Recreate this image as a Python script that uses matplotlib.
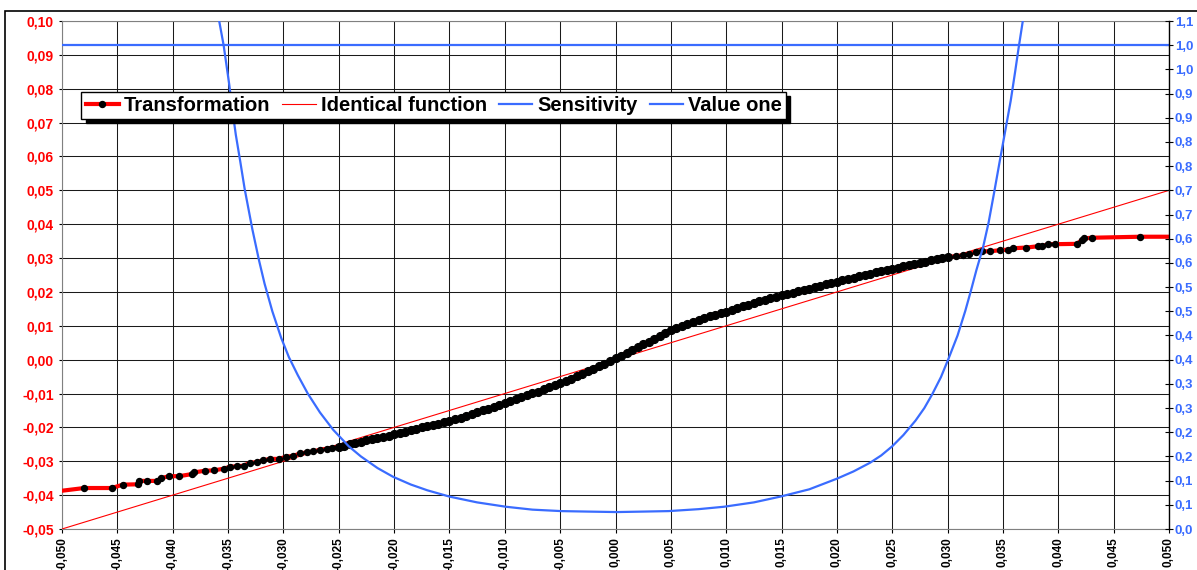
import numpy as np
import matplotlib
matplotlib.use("Agg")
import matplotlib.pyplot as plt
from matplotlib.patches import Rectangle
from matplotlib.ticker import FuncFormatter

plt.rcParams['font.family'] = ['Liberation Sans', 'DejaVu Sans']
plt.rcParams['font.weight'] = 'bold'

RED = '#FF0000'
BLUE = '#3A6CFF'

# ---- data -------------------------------------------------------------
# Transformation: sparse observations in the tails, dense in the centre
trans_x_left = [-0.0500, -0.0480, -0.0455, -0.0445, -0.0431, -0.0430, -0.0423,
                -0.0414, -0.0411, -0.0403, -0.0394, -0.0383, -0.0381, -0.0371,
                -0.0363, -0.0354, -0.0348, -0.0342, -0.0336, -0.0330, -0.0324,
                -0.0318, -0.0312, -0.0304, -0.0298, -0.0291, -0.0285, -0.0279,
                -0.0273, -0.0267, -0.0261, -0.0256]
trans_y_left = [-0.0387, -0.0379, -0.0379, -0.0369, -0.0368, -0.0358, -0.0358,
                -0.0358, -0.0350, -0.0344, -0.0344, -0.0338, -0.0333, -0.0328,
                -0.0327, -0.0322, -0.0316, -0.0315, -0.0313, -0.0304, -0.0303,
                -0.0297, -0.0293, -0.0293, -0.0287, -0.0284, -0.0277, -0.0274,
                -0.0271, -0.0266, -0.0263, -0.0260]

trans_x_mid = [-0.0250, -0.0245, -0.0240, -0.0235, -0.0230, -0.0225, -0.0220,
               -0.0215, -0.0210, -0.0205, -0.0200, -0.0195, -0.0190, -0.0185,
               -0.0180, -0.0175, -0.0170, -0.0165, -0.0160, -0.0155, -0.0150,
               -0.0145, -0.0140, -0.0135, -0.0130, -0.0125, -0.0120, -0.0115,
               -0.0110, -0.0105, -0.0100, -0.0095, -0.0090, -0.0085, -0.0080,
               -0.0075, -0.0070, -0.0065, -0.0060, -0.0055, -0.0050, -0.0045,
               -0.0040, -0.0035, -0.0030, -0.0025, -0.0020, -0.0015, -0.0010,
               -0.0005, 0.0000, 0.0005, 0.0010, 0.0015, 0.0020, 0.0025, 0.0030,
               0.0035, 0.0040, 0.0045, 0.0050, 0.0055, 0.0060, 0.0065, 0.0070,
               0.0075, 0.0080, 0.0085, 0.0090, 0.0095, 0.0100, 0.0105, 0.0110,
               0.0115, 0.0120, 0.0125, 0.0130, 0.0135, 0.0140, 0.0145, 0.0150,
               0.0155, 0.0160, 0.0165, 0.0170, 0.0175, 0.0180, 0.0185, 0.0190,
               0.0195, 0.0200, 0.0205, 0.0210, 0.0215, 0.0220, 0.0225, 0.0230,
               0.0235, 0.0240, 0.0245, 0.0250, 0.0255, 0.0260, 0.0265, 0.0270,
               0.0275, 0.0280, 0.0285, 0.0290, 0.0295, 0.0300]
trans_y_mid = [-0.0257, -0.0254, -0.0250, -0.0246, -0.0242, -0.0238, -0.0235,
               -0.0231, -0.0228, -0.0224, -0.0220, -0.0217, -0.0213, -0.0208,
               -0.0204, -0.0200, -0.0197, -0.0193, -0.0189, -0.0185, -0.0181,
               -0.0176, -0.0171, -0.0166, -0.0161, -0.0155, -0.0150, -0.0145,
               -0.0140, -0.0135, -0.0129, -0.0123, -0.0117, -0.0111, -0.0105,
               -0.0099, -0.0094, -0.0088, -0.0082, -0.0076, -0.0070, -0.0063,
               -0.0056, -0.0049, -0.0041, -0.0034, -0.0027, -0.0019, -0.0012,
               -0.0004, 0.0004, 0.0012, 0.0021, 0.0029, 0.0037, 0.0045, 0.0053,
               0.0061, 0.0069, 0.0078, 0.0087, 0.0094, 0.0100, 0.0106, 0.0112,
               0.0118, 0.0123, 0.0128, 0.0133, 0.0138, 0.0142, 0.0147, 0.0152,
               0.0157, 0.0162, 0.0167, 0.0172, 0.0176, 0.0181, 0.0186, 0.0190,
               0.0194, 0.0198, 0.0202, 0.0206, 0.0210, 0.0214, 0.0218, 0.0222,
               0.0226, 0.0230, 0.0234, 0.0238, 0.0242, 0.0246, 0.0250, 0.0254,
               0.0258, 0.0261, 0.0265, 0.0269, 0.0272, 0.0276, 0.0279, 0.0283,
               0.0286, 0.0289, 0.0293, 0.0296, 0.0300, 0.0303]

trans_x_right = [0.0308, 0.0314, 0.0319, 0.0326, 0.0331, 0.0338, 0.0347, 0.0355,
                 0.0359, 0.0371, 0.0382, 0.0385, 0.0391, 0.0397, 0.0417, 0.0421,
                 0.0423, 0.0430, 0.0474, 0.0500]
trans_y_right = [0.0306, 0.0308, 0.0313, 0.0317, 0.0320, 0.0320, 0.0323, 0.0325,
                 0.0329, 0.0331, 0.0335, 0.0335, 0.0341, 0.0341, 0.0342, 0.0353,
                 0.0358, 0.0360, 0.0363, 0.0363]

# Identical function y = x
ident_x = [-0.05, 0.05]
ident_y = [-0.05, 0.05]

# Sensitivity (right axis)
sens_x = [-0.0358, -0.0354, -0.0349, -0.0346, -0.0343, -0.0339, -0.0335, -0.0331,
          -0.0328, -0.0322, -0.0317, -0.0310, -0.0302, -0.0295, -0.0287, -0.0278,
          -0.0267, -0.0255, -0.0241, -0.0230, -0.0215, -0.0201, -0.0185, -0.0170,
          -0.0150, -0.0125, -0.0099, -0.0075, -0.0049, -0.0025, 0.0001, 0.0025,
          0.0048, 0.0075, 0.0098, 0.0125, 0.0149, 0.0175, 0.0200, 0.0215, 0.0230,
          0.0240, 0.0250, 0.0260, 0.0271, 0.0279, 0.0286, 0.0294, 0.0301, 0.0309,
          0.0316, 0.0321, 0.0326, 0.0332, 0.0337, 0.0342, 0.0347, 0.0352, 0.0357,
          0.0361, 0.0364, 0.0368]
sens_y = [1.050, 1.000, 0.920, 0.865, 0.815, 0.760, 0.703, 0.655,
          0.619, 0.555, 0.507, 0.450, 0.395, 0.355, 0.318, 0.280,
          0.241, 0.205, 0.171, 0.150, 0.126, 0.108, 0.092, 0.080,
          0.067, 0.055, 0.046, 0.040, 0.037, 0.036, 0.035, 0.036,
          0.037, 0.041, 0.046, 0.055, 0.067, 0.082, 0.104, 0.119, 0.137,
          0.152, 0.171, 0.194, 0.224, 0.250, 0.278, 0.314, 0.353, 0.400,
          0.451, 0.492, 0.535, 0.582, 0.633, 0.695, 0.759, 0.822, 0.885,
          0.945, 0.992, 1.051]

# Value one (right axis)
one_x = [-0.05, 0.05]
one_y = [1.0, 1.0]

# Axis ticks and labels
x_ticks = np.linspace(-0.05, 0.05, 21)
left_ticks = np.linspace(-0.05, 0.10, 16)
right_ticks = np.linspace(0.0, 1.05, 22)
right_labels = ['0,0', '0,1', '0,1', '0,2', '0,2', '0,3', '0,3', '0,4', '0,4',
                '0,5', '0,5', '0,6', '0,6', '0,7', '0,7', '0,8', '0,8', '0,9',
                '0,9', '1,0', '1,0', '1,1']

# ---- figure -----------------------------------------------------------
W, H = 1197, 570
fig = plt.figure(figsize=(W / 100, H / 100), dpi=100)
fig.patches.append(Rectangle((5 / W, -0.2), 1.5, 1.2 - 10.7 / H,
                             transform=fig.transFigure, fill=False,
                             edgecolor='black', linewidth=1.2))

ax = fig.add_axes([62 / W, 1 - 529 / H, 1107 / W, 508 / H])
ax2 = ax.twinx()

trans_x = trans_x_left + trans_x_mid + trans_x_right
trans_y = trans_y_left + trans_y_mid + trans_y_right
n_left, n_mid = len(trans_x_left), len(trans_x_mid)
tail_idx = (list(range(1, n_left)) +
            list(range(n_left + n_mid, len(trans_x) - 1)))

l_ident, = ax.plot(ident_x, ident_y, color=RED, lw=0.8,
                   label='Identical function', zorder=3)
# red line with black observation dots; the dense centre gets slightly
# larger dots so that they merge into a solid band
l_trans, = ax.plot(trans_x, trans_y, color=RED, lw=3.0, marker='o', ms=4.3,
                   mfc='black', mec='black', markevery=tail_idx,
                   label='Transformation', zorder=4)
ax.plot(trans_x_mid, trans_y_mid, ls='none', marker='o', ms=5.6,
        mfc='black', mec='black', zorder=5)

l_sens, = ax2.plot(sens_x, sens_y, color=BLUE, lw=1.6, label='Sensitivity')
l_one, = ax2.plot(one_x, one_y, color=BLUE, lw=1.6, label='Value one')

ax.set_xlim(-0.05, 0.05)
ax.set_ylim(-0.05, 0.10)
ax2.set_ylim(0.0, 1.05)

ax.set_xticks(x_ticks)
ax.xaxis.set_major_formatter(FuncFormatter(
    lambda v, p: f"{round(v, 3) + 0.0:.3f}".replace('.', ',')))
ax.set_yticks(left_ticks)
ax.yaxis.set_major_formatter(FuncFormatter(
    lambda v, p: f"{round(v, 2) + 0.0:.2f}".replace('.', ',')))
ax2.set_yticks(right_ticks)
ax2.set_yticklabels(right_labels)

ax.grid(True, color='#1a1a1a', lw=0.75)
ax.set_axisbelow(True)

for lbl in ax.get_xticklabels():
    lbl.set_rotation(90)
ax.tick_params(axis='x', labelsize=8.5, direction='out', length=3, pad=3,
               colors='black', width=0.8)
ax.tick_params(axis='y', labelsize=10, labelcolor=RED, direction='out',
               length=2, pad=4, width=0.8)
ax2.tick_params(axis='y', labelsize=9.5, labelcolor=BLUE, direction='inout',
                length=6, pad=1.2, width=0.8)

for s in ('left', 'top', 'bottom'):
    ax.spines[s].set_color('#808080')
    ax2.spines[s].set_visible(False)
ax.spines['right'].set_visible(False)
ax2.spines['right'].set_color('black')
ax2.spines['right'].set_linewidth(1.0)

for lbl in ax.get_xticklabels() + ax.get_yticklabels() + ax2.get_yticklabels():
    lbl.set_fontweight('bold')

leg = ax2.legend(handles=[l_trans, l_ident, l_sens, l_one], ncol=4,
                 loc='upper left', bbox_to_anchor=(0.0176, 0.861),
                 borderaxespad=0, frameon=True, fancybox=False,
                 shadow={'color': 'black', 'alpha': 1.0, 'ox': 3, 'oy': -3},
                 prop={'weight': 'bold', 'size': 14.5},
                 handlelength=1.65, handletextpad=0.25, columnspacing=0.6,
                 borderpad=0.2, numpoints=1)
leg.get_frame().set_edgecolor('black')
leg.get_frame().set_linewidth(1.0)
leg.set_zorder(10)

fig.savefig('out.png', dpi=100)
